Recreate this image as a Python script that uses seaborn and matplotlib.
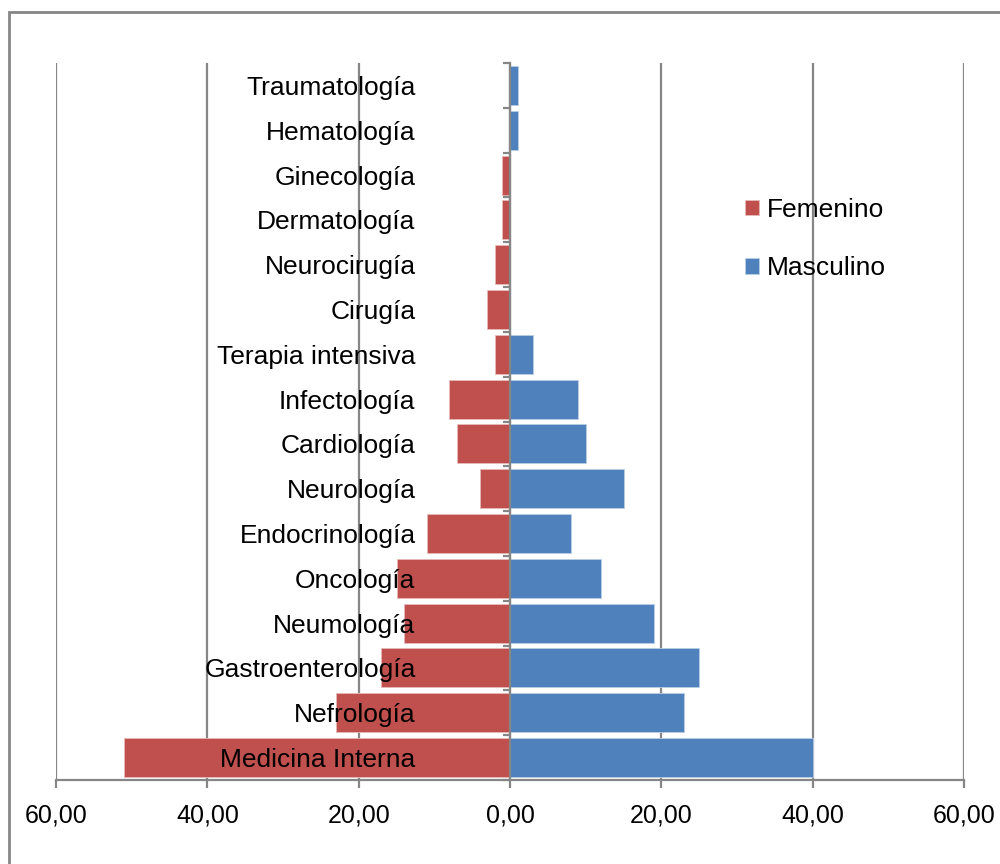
import matplotlib
matplotlib.use("Agg")
import matplotlib.pyplot as plt
import matplotlib.ticker as mticker
import seaborn as sns
import pandas as pd
from matplotlib.patches import Rectangle

categories = ["Traumatología", "Hematología", "Ginecología", "Dermatología",
              "Neurocirugía", "Cirugía", "Terapia intensiva", "Infectología",
              "Cardiología", "Neurología", "Endocrinología", "Oncología",
              "Neumología", "Gastroenterología", "Nefrología", "Medicina Interna"]
femenino = [0, 0, 1, 1, 2, 3, 2, 8, 7, 4, 11, 15, 14, 17, 23, 51]
masculino = [1, 1, 0, 0, 0, 0, 3, 9, 10, 15, 8, 12, 19, 25, 23, 40]
x_ticks = [-60, -40, -20, 0, 20, 40, 60]

RED = "#C0504D"
BLUE = "#4F81BD"
GRID = "#868686"

sns.set_style("white")
plt.rcParams["font.family"] = ["Liberation Sans", "DejaVu Sans"]
plt.rcParams["text.color"] = "black"
plt.rcParams["xtick.labelcolor"] = "black"
plt.rcParams["ytick.labelcolor"] = "black"

df = pd.DataFrame({"cat": categories,
                   "fem": [-v for v in femenino],
                   "mas": masculino})

fig = plt.figure(figsize=(10, 8.64), dpi=100)
ax = fig.add_axes([0.056, 1 - 780 / 864, 0.908, (780 - 63) / 864])

for t in x_ticks:
    ax.axvline(t, color=GRID, lw=1.6, zorder=0)

sns.barplot(data=df, x="fem", y="cat", color=RED, width=0.87, saturation=1,
            edgecolor="#E6B9B8", linewidth=0.6, ax=ax, label="Femenino", zorder=1)
sns.barplot(data=df, x="mas", y="cat", color=BLUE, width=0.87, saturation=1,
            edgecolor="#B9CDE5", linewidth=0.6, ax=ax, label="Masculino", zorder=1)

ax.set_xlim(-60, 60)
ax.set_ylim(len(categories) - 0.5, -0.5)
ax.set_xticks(x_ticks)
ax.xaxis.set_major_formatter(mticker.FuncFormatter(
    lambda v, p: f"{abs(v):.2f}".replace(".", ",")))
ax.set_xlabel("")
ax.set_ylabel("")
ax.set_axisbelow(False)

for s in ["top", "right"]:
    ax.spines[s].set_visible(False)
ax.spines["left"].set_position(("data", 0))
ax.spines["left"].set_color(GRID)
ax.spines["left"].set_linewidth(1.6)
ax.spines["left"].set_zorder(3)
ax.spines["bottom"].set_color(GRID)
ax.spines["bottom"].set_linewidth(1.6)

ax.tick_params(axis="x", which="major", direction="out", length=6, width=1.6,
               color=GRID, pad=11, labelsize=18, bottom=True)
ax.tick_params(axis="y", which="major", length=0, pad=68, labelsize=19)
ax.set_yticks(range(len(categories)), minor=False)
ax.yaxis.set_minor_locator(mticker.FixedLocator(
    [i + 0.5 for i in range(-1, len(categories))]))
ax.tick_params(axis="y", which="minor", direction="out", length=5, width=1.6,
               color=GRID, left=True)
for lbl in ax.get_yticklabels():
    lbl.set_zorder(5)

leg = ax.legend(loc="upper left", bbox_to_anchor=(745 / 1000, 1 - 198 / 864),
                bbox_transform=fig.transFigure, frameon=False, fontsize=19,
                handlelength=0.53, handleheight=0.53, handletextpad=0.3,
                labelspacing=1.3, borderpad=0, borderaxespad=0)

fig.patches.append(Rectangle((9 / 1000, -0.1), 1.2, 1 - 12 / 864 + 0.1,
                             transform=fig.transFigure, fill=False,
                             edgecolor="#868686", linewidth=2, zorder=0))

fig.savefig("out.png", dpi=100)
